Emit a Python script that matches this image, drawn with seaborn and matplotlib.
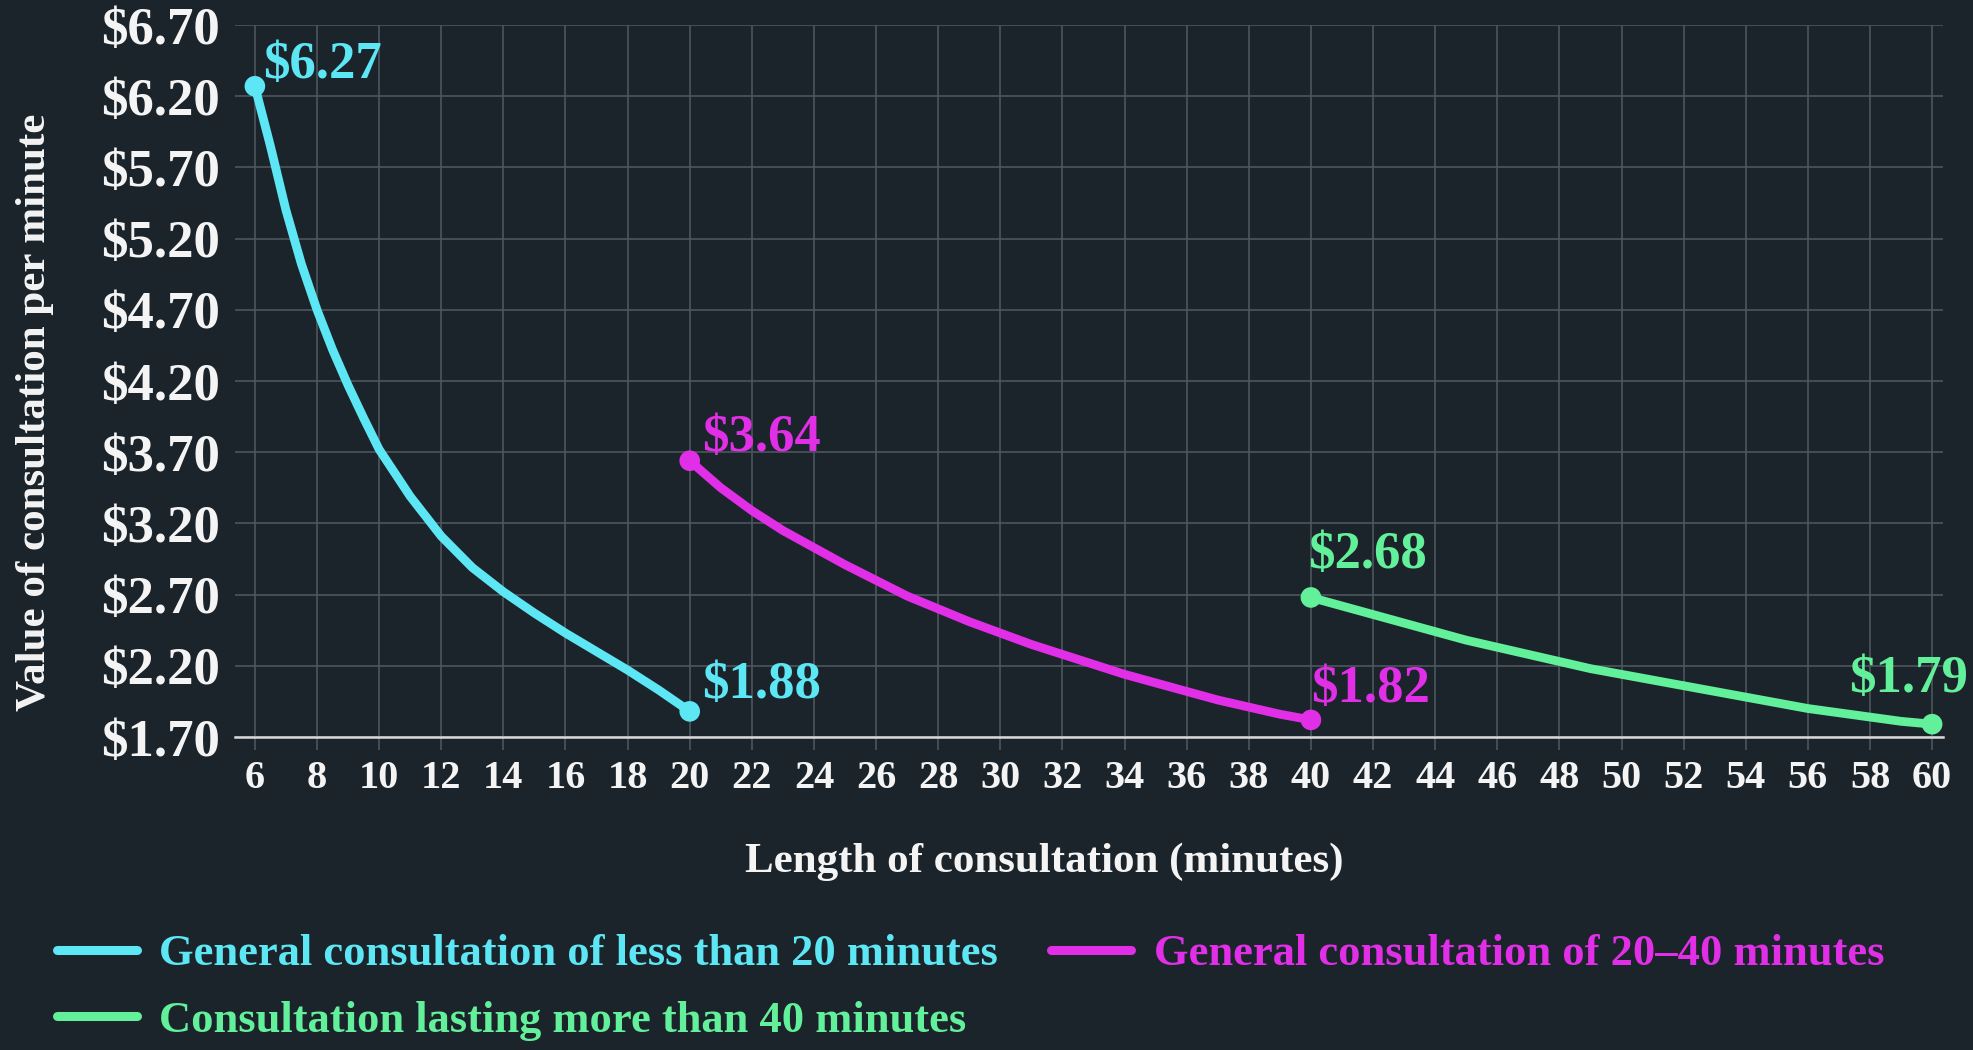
import matplotlib
matplotlib.use("Agg")
import matplotlib.pyplot as plt
from matplotlib.lines import Line2D
import pandas as pd
import seaborn as sns

# --- data -------------------------------------------------------------
series_names = [
    "General consultation of less than 20 minutes",
    "General consultation of 20–40 minutes",
    "Consultation lasting more than 40 minutes",
]

short_minutes = [6, 6.5, 7, 7.5, 8, 8.5, 9, 9.5, 10, 11, 12, 13, 14, 15, 16, 17, 18, 19, 20]
short_values = [6.27, 5.85, 5.40, 5.02, 4.70, 4.42, 4.17, 3.94, 3.72, 3.39, 3.11, 2.89,
                2.72, 2.57, 2.43, 2.30, 2.17, 2.03, 1.88]

mid_minutes = [20, 21, 22, 23, 24, 25, 26, 27, 28, 29, 30, 31, 32, 33, 34, 35, 36, 37, 38, 39, 40]
mid_values = [3.64, 3.45, 3.29, 3.15, 3.03, 2.91, 2.80, 2.69, 2.60, 2.51, 2.43, 2.35,
              2.28, 2.21, 2.14, 2.08, 2.02, 1.96, 1.91, 1.86, 1.82]

long_minutes = [40, 41, 42, 43, 44, 45, 46, 47, 48, 49, 50, 51, 52, 53, 54, 55, 56, 57, 58, 59, 60]
long_values = [2.68, 2.62, 2.56, 2.50, 2.44, 2.38, 2.33, 2.28, 2.23, 2.18, 2.14, 2.10,
               2.06, 2.02, 1.98, 1.94, 1.90, 1.87, 1.84, 1.81, 1.79]

x_ticks = [6, 8, 10, 12, 14, 16, 18, 20, 22, 24, 26, 28, 30, 32, 34, 36, 38, 40,
           42, 44, 46, 48, 50, 52, 54, 56, 58, 60]
y_ticks = [1.70, 2.20, 2.70, 3.20, 3.70, 4.20, 4.70, 5.20, 5.70, 6.20, 6.70]

# --- style ------------------------------------------------------------
BG = "#1c242b"
GRID = "#4d565d"
TEXT = "#f4f4f4"
colors = ["#5de6f4", "#e12fe7", "#63f09b"]
palette = dict(zip(series_names, colors))

# label offsets (pixels) for the start/end value labels of each series
label_offsets = {
    series_names[0]: [((8, 8), "left"), ((12, 13), "left")],
    series_names[1]: [((12, 10), "left"), ((0, 18), "left")],
    series_names[2]: [((-3, 29), "left"), ((-24, 32), "center")],
}

sns.set_theme(style="darkgrid", rc={
    "axes.facecolor": BG,
    "figure.facecolor": BG,
    "grid.color": GRID,
    "grid.linewidth": 1.2,
    "axes.edgecolor": BG,
})
plt.rcParams["font.family"] = ["Liberation Serif", "DejaVu Serif"]
plt.rcParams["font.weight"] = "bold"

frames = []
for name, mins, vals in zip(series_names,
                            [short_minutes, mid_minutes, long_minutes],
                            [short_values, mid_values, long_values]):
    frames.append(pd.DataFrame({"minutes": mins, "value": vals, "series": name}))
df = pd.concat(frames, ignore_index=True)

W, H = 1974, 1050
fig = plt.figure(figsize=(W / 100, H / 100), dpi=100)
left_px, right_px, top_px, bottom_px = 235, 1943, 25, 737
ax = fig.add_axes([left_px / W, 1 - bottom_px / H,
                   (right_px - left_px) / W, (bottom_px - top_px) / H])

sns.lineplot(data=df, x="minutes", y="value", hue="series", palette=palette,
             linewidth=6.3, legend=False, ax=ax, solid_capstyle="round",
             solid_joinstyle="round", estimator=None, sort=False, zorder=3)

ends = pd.concat([df.groupby("series", sort=False).head(1),
                  df.groupby("series", sort=False).tail(1)])
sns.scatterplot(data=ends, x="minutes", y="value", hue="series", palette=palette,
                s=220, edgecolor="none", linewidth=0, legend=False, ax=ax, zorder=4)

for name in series_names:
    sub = df[df["series"] == name]
    pts = [sub.iloc[0], sub.iloc[-1]]
    for row, ((dx, dy), ha) in zip(pts, label_offsets[name]):
        ax.annotate(f"${row['value']:.2f}", (row["minutes"], row["value"]),
                    xytext=(dx, dy), textcoords="offset pixels",
                    ha=ha, va="baseline", color=palette[name],
                    fontsize=38, fontweight="bold", zorder=5)

ax.set_xlim(5.36, 60.35)
ax.set_ylim(1.70, 6.70)
ax.set_xticks(x_ticks)
ax.set_xticklabels([str(t) for t in x_ticks])
ax.set_yticks(y_ticks)
ax.set_yticklabels([f"${t:.2f}" for t in y_ticks])
ax.grid(True, color=GRID, linewidth=1.2)
ax.set_axisbelow(True)

for side in ["top", "right", "left"]:
    ax.spines[side].set_visible(False)
ax.spines["bottom"].set_visible(True)
ax.spines["bottom"].set_color("#d8d8d8")
ax.spines["bottom"].set_linewidth(1.8)
ax.spines["bottom"].set_zorder(2.5)

ax.tick_params(axis="x", length=9.5, width=1.2, color=GRID, pad=7,
               labelsize=29, labelcolor=TEXT, bottom=True)
ax.tick_params(axis="y", length=0, pad=11, labelsize=38, labelcolor=TEXT)
for lab in ax.get_xticklabels() + ax.get_yticklabels():
    lab.set_fontweight("bold")

ax.set_xlabel("Length of consultation (minutes)", fontsize=31,
              fontweight="bold", color=TEXT)
ax.xaxis.set_label_coords(0.474, -0.1756)
ax.xaxis.label.set_va("center")
ax.set_ylabel("Value of consultation per minute", fontsize=31,
              fontweight="bold", color=TEXT)
ax.yaxis.set_label_coords(-0.117, 0.456)
ax.yaxis.label.set_va("center")

handles = [Line2D([0], [0], color=palette[n], linewidth=6.5, solid_capstyle="round")
           for n in series_names]
order = [0, 2, 1]
leg = fig.legend([handles[i] for i in order], [series_names[i] for i in order],
                 loc="upper left", bbox_to_anchor=(57 / W, 1 - 934 / H),
                 ncol=2, frameon=False, borderpad=0, borderaxespad=0,
                 handlelength=1.8, handletextpad=0.5, columnspacing=1.2,
                 labelspacing=0.6, labelcolor="linecolor",
                 prop={"size": 32, "weight": "bold"})

fig.savefig("out.png", dpi=100, facecolor=BG)
